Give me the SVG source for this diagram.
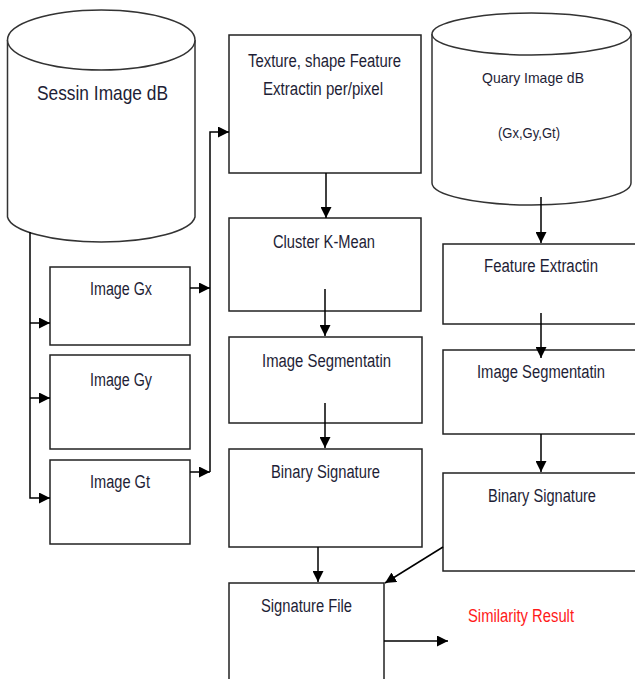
<svg xmlns="http://www.w3.org/2000/svg" width="635" height="679" viewBox="0 0 635 679">
<defs>
<marker id="ah" markerUnits="userSpaceOnUse" markerWidth="11" markerHeight="11" refX="11" refY="5.5" orient="auto">
<path d="M0,0 L11,5.5 L0,11 z" fill="#000"/>
</marker>
<style>
.box{fill:#fff;stroke:#222;stroke-width:1.5}
.cyl{fill:#fff;stroke:#333;stroke-width:1.5}
.t{font-family:"Liberation Sans",Arial,sans-serif;font-size:18px;fill:#1e1e36}
.c{stroke:#000;stroke-width:1.5;fill:none}
.ca{stroke:#000;stroke-width:1.5;fill:none;marker-end:url(#ah)}
</style>
</defs>
<rect width="635" height="679" fill="#fff"/>

<g id="session-db">
<path class="cyl" d="M7.5,40 V217 A94,27 0 0 0 195,217 V40"/>
<ellipse class="cyl" cx="101.25" cy="40" rx="93.75" ry="30"/>
<text class="t" x="37" y="100" style="font-size:21px" textLength="131" lengthAdjust="spacingAndGlyphs">Sessin Image dB</text>
</g>

<g id="image-gx">
<rect class="box" x="50" y="267" width="140" height="78"/>
<text class="t" x="90" y="295" textLength="62" lengthAdjust="spacingAndGlyphs">Image Gx</text>
</g>
<g id="image-gy">
<rect class="box" x="50" y="355" width="140" height="94"/>
<text class="t" x="90" y="386" textLength="62" lengthAdjust="spacingAndGlyphs">Image Gy</text>
</g>
<g id="image-gt">
<rect class="box" x="50" y="460" width="140" height="84"/>
<text class="t" x="90" y="488" textLength="60" lengthAdjust="spacingAndGlyphs">Image Gt</text>
</g>

<g id="texture">
<rect class="box" x="229" y="35" width="192" height="138"/>
<text class="t" x="248" y="67" textLength="153" lengthAdjust="spacingAndGlyphs">Texture, shape Feature</text>
<text class="t" x="263" y="95" textLength="120" lengthAdjust="spacingAndGlyphs">Extractin per/pixel</text>
</g>
<g id="cluster">
<rect class="box" x="229" y="218" width="192" height="93"/>
<text class="t" x="273" y="248" textLength="102" lengthAdjust="spacingAndGlyphs">Cluster K-Mean</text>
</g>
<g id="segment-left">
<rect class="box" x="229" y="337" width="193" height="86"/>
<text class="t" x="262" y="367" textLength="129" lengthAdjust="spacingAndGlyphs">Image Segmentatin</text>
</g>
<g id="binary-left">
<rect class="box" x="229" y="449" width="193" height="98"/>
<text class="t" x="271" y="478" textLength="109" lengthAdjust="spacingAndGlyphs">Binary Signature</text>
</g>
<g id="signature-file">
<rect class="box" x="229" y="583" width="155" height="110"/>
<text class="t" x="261" y="612" textLength="91" lengthAdjust="spacingAndGlyphs">Signature File</text>
</g>

<g id="query-db">
<path class="cyl" d="M432,34 V183 A99.5,22 0 0 0 631,183 V34"/>
<ellipse class="cyl" cx="531.5" cy="34" rx="99.5" ry="21"/>
<text class="t" x="482" y="83" style="font-size:15px" textLength="102" lengthAdjust="spacingAndGlyphs">Quary Image dB</text>
<text class="t" x="498" y="138" style="font-size:15px" textLength="62" lengthAdjust="spacingAndGlyphs">(Gx,Gy,Gt)</text>
</g>
<g id="feature-right">
<rect class="box" x="443" y="244" width="200" height="80"/>
<text class="t" x="484" y="272" textLength="114" lengthAdjust="spacingAndGlyphs">Feature Extractin</text>
</g>
<g id="segment-right">
<rect class="box" x="443" y="350" width="200" height="84"/>
<text class="t" x="477" y="378" textLength="128" lengthAdjust="spacingAndGlyphs">Image Segmentatin</text>
</g>
<g id="binary-right">
<rect class="box" x="443" y="473" width="200" height="98"/>
<text class="t" x="488" y="502" textLength="108" lengthAdjust="spacingAndGlyphs">Binary Signature</text>
</g>

<g id="similarity-result">
<text class="t" x="468" y="622" style="fill:#ff1a1a" textLength="106" lengthAdjust="spacingAndGlyphs">Similarity Result</text>
</g>

<g id="connectors">
<path class="ca" d="M30,232 V498 H50"/>
<path class="ca" d="M30,323 H50"/>
<path class="ca" d="M30,398 H50"/>
<path class="ca" d="M190,288 H210"/>
<path class="ca" d="M190,472 H210"/>
<path class="ca" d="M210,472 V132 H229"/>
<path class="ca" d="M326,173 V218"/>
<path class="ca" d="M325,289 V336"/>
<path class="ca" d="M325,403 V448"/>
<path class="ca" d="M318,547 V582"/>
<path class="ca" d="M384,641 H448"/>
<path class="ca" d="M541,197 V243"/>
<path class="ca" d="M541,313 V358"/>
<path class="ca" d="M541,434 V472"/>
<path class="ca" d="M443,547 L385,583"/>
</g>
</svg>
